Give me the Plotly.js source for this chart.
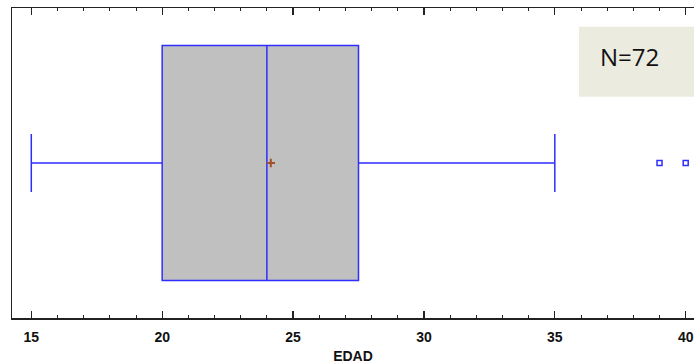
<!DOCTYPE html>
<html>
<head>
<meta charset="utf-8">
<script src="https://cdn.plot.ly/plotly-3.0.1.min.js"></script>
<style>html,body{margin:0;padding:0;background:#fff;}#chart{width:694px;height:364px;}</style>
</head>
<body>
<div id="chart"></div>
<script>
// Summary statistics (EDAD)
const variableName = "EDAD";
const sampleSize = 72;
const minWhisker = [15];
const q1Values = [20];
const medianValues = [24];
const q3Values = [27.5];
const maxWhisker = [35];
const meanValues = [24.15];
const outlierValues = [39, 40];
const tickValues = [15, 20, 25, 30, 35, 40];
const tickLabels = ["15", "20", "25", "30", "35", "40"];

const boxBlue = "#2e2eff";

const traces = [
  {
    type: "box",
    orientation: "h",
    y: [0],
    q1: q1Values,
    median: medianValues,
    q3: q3Values,
    lowerfence: minWhisker,
    upperfence: maxWhisker,
    width: 0.758,
    whiskerwidth: 0.247,
    fillcolor: "#c0c0c0",
    line: {color: boxBlue, width: 1.5},
    hoverinfo: "skip",
    showlegend: false
  },
  {
    type: "scatter",
    mode: "markers",
    x: outlierValues,
    y: outlierValues.map(() => 0),
    marker: {symbol: "square-open", size: 5, color: boxBlue, line: {width: 1.5, color: boxBlue}},
    showlegend: false,
    hoverinfo: "skip"
  },
  {
    type: "scatter",
    mode: "markers",
    x: meanValues,
    y: [0],
    marker: {symbol: "cross-thin", size: 6, line: {width: 2, color: "#a0522d"}},
    showlegend: false,
    hoverinfo: "skip"
  }
];

const layout = {
  width: 694,
  height: 364,
  margin: {l: 12, r: 0, t: 8, b: 46},
  paper_bgcolor: "#ffffff",
  plot_bgcolor: "#ffffff",
  showlegend: false,
  xaxis: {
    range: [14.263, 40.317],
    tickvals: tickValues,
    ticktext: tickLabels.map(t => "<b>" + t + "</b>"),
    ticks: "inside",
    ticklen: 7,
    tickwidth: 1.2,
    tickcolor: "#222",
    ticklabelstandoff: 6,
    minor: {dtick: 1, ticks: "inside", ticklen: 3, tickwidth: 1, tickcolor: "#222", showgrid: false},
    showline: true,
    linecolor: "#222",
    linewidth: 1.5,
    mirror: "allticks",
    showgrid: false,
    zeroline: false,
    tickfont: {family: "Liberation Sans, Arial, sans-serif", size: 14, color: "#111"},
    title: {text: "<b>" + variableName + "</b>", font: {family: "Liberation Sans, Arial, sans-serif", size: 14, color: "#111"}, standoff: 7}
  },
  yaxis: {
    range: [-0.5, 0.5],
    showticklabels: false,
    ticks: "",
    showline: true,
    linecolor: "#222",
    linewidth: 1.5,
    showgrid: false,
    zeroline: false
  },
  shapes: [
    {type: "rect", xref: "paper", yref: "paper", x0: 0.8314, x1: 1.0, y0: 0.7139, y1: 0.9397,
     fillcolor: "#ecebe0", line: {width: 0}, layer: "above"}
  ],
  annotations: [
    {xref: "paper", yref: "paper", x: 0.906, y: 0.845, xanchor: "center", yanchor: "middle",
     text: "N=" + sampleSize, showarrow: false,
     font: {family: "Open Sans, Noto Sans, sans-serif", size: 24, color: "#111"}}
  ]
};

Plotly.newPlot("chart", traces, layout, {staticPlot: true, displayModeBar: false});
</script>
</body>
</html>
